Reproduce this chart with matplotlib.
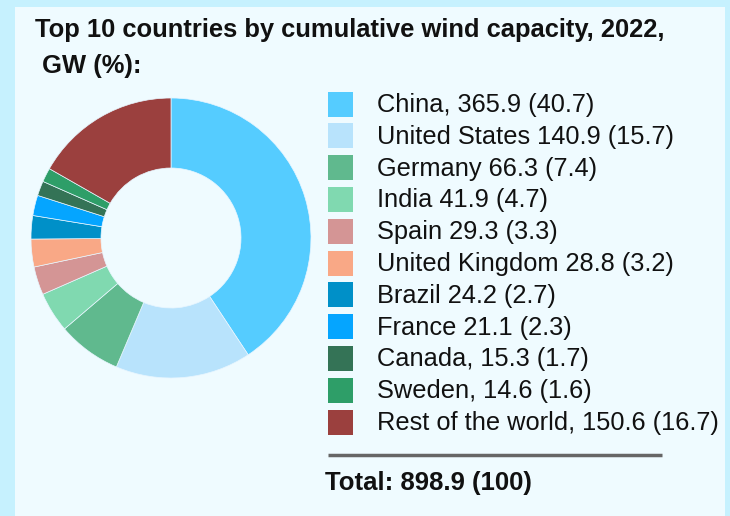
import numpy as np
import matplotlib
matplotlib.use("Agg")
import matplotlib.pyplot as plt
from matplotlib.patches import Rectangle

plt.rcParams['font.family'] = ['Liberation Sans', 'DejaVu Sans']

# Donnees
countries = ["China,", "United States", "Germany", "India", "Spain",
             "United Kingdom", "Brazil", "France", "Canada,", "Sweden,",
             "Rest of the world,"]
capacity = [365.9, 140.9, 66.3, 41.9, 29.3, 28.8, 24.2, 21.1, 15.3, 14.6, 150.6]
shares = [40.7, 15.7, 7.4, 4.7, 3.3, 3.2, 2.7, 2.3, 1.7, 1.6, 16.7]
colors = ["#55ccff", "#b8e3fc", "#60b98e", "#80d9b0", "#d49595", "#f9a886",
          "#0090c8", "#05a5ff", "#347356", "#2e9e68", "#9b403e"]
total = 898.9
title_lines = ["Top 10 countries by cumulative wind capacity, 2022,", " GW (%):"]

W, H = 730, 516
fig = plt.figure(figsize=(W / 100, H / 100), dpi=100, facecolor="#c6f1fe")

# Fond + panneau
bg = fig.add_axes([0, 0, 1, 1], zorder=-1)
bg.set_xlim(0, W)
bg.set_ylim(H, 0)
bg.axis("off")
bg.add_patch(Rectangle((15, 7), 710, H - 7, facecolor="#effbff", edgecolor="none"))

# Donut
cx, cy, r = 171, 238, 140
ax = fig.add_axes([(cx - r) / W, (H - cy - r) / H, 2 * r / W, 2 * r / H])
ax.pie(capacity, colors=colors, startangle=90, counterclock=False, radius=1,
       wedgeprops=dict(width=0.5, edgecolor="#e8f6ff", linewidth=0.5))
ax.set_xlim(-1, 1)
ax.set_ylim(-1, 1)
ax.set_aspect("equal")
ax.axis("off")

# Legende
lg = fig.add_axes([0, 0, 1, 1])
lg.set_xlim(0, W)
lg.set_ylim(H, 0)
lg.axis("off")

for y, line in zip([37, 73], title_lines):
    lg.text(35, y, line, fontsize=18.4, fontweight="bold", va="baseline",
            ha="left", color="#111111")

y0, dy = 104, 31.8
for i, (name, cap, sh, c) in enumerate(zip(countries, capacity, shares, colors)):
    y = y0 + i * dy
    lg.add_patch(Rectangle((328, y - 12.5), 25, 25, facecolor=c, edgecolor="none"))
    lg.text(377, y + 8, f"{name} {cap} ({sh})", fontsize=18.3, va="baseline",
            ha="left", color="#111111")

lg.plot([328, 662], [455, 455], color="#666666", linewidth=2.5,
        solid_capstyle="butt")
lg.text(325, 490, f"Total: {total} (100)", fontsize=18.5, fontweight="bold",
        va="baseline", ha="left", color="#111111")

fig.savefig("out.png", dpi=100, facecolor=fig.get_facecolor())
